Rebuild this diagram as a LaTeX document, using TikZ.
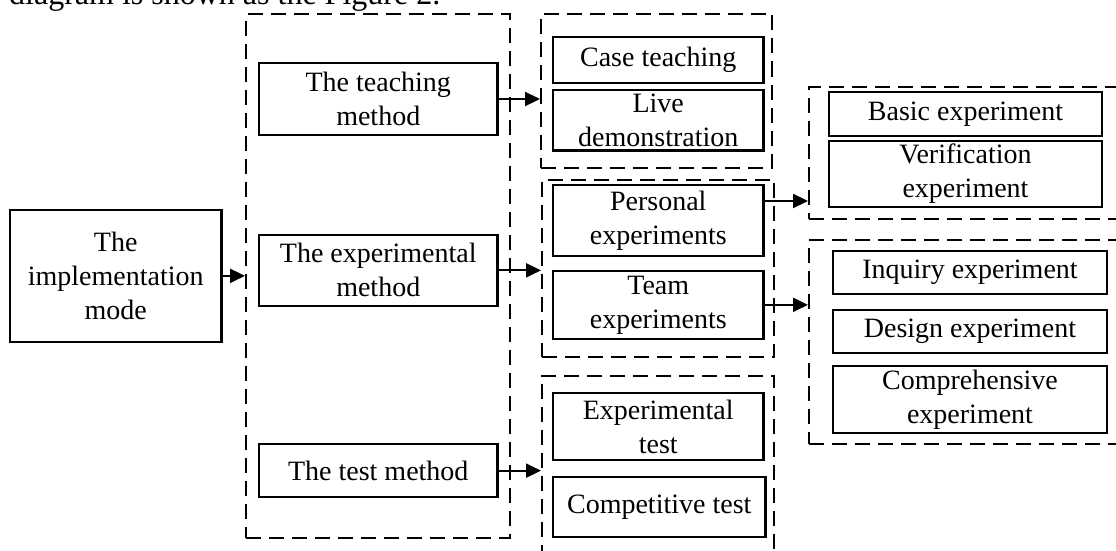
\documentclass[tikz,border=0pt]{standalone}
\usepackage{fontspec}
\setmainfont{Liberation Serif}
\usetikzlibrary{arrows.meta}
\begin{document}
\begin{tikzpicture}[x=1pt,y=-1pt,
  every node/.style={font=\fontsize{28}{34}\selectfont, inner sep=0pt},
  box/.style={draw, line width=2.2pt, rectangle, align=center},
  grp/.style={draw, line width=2pt, dash pattern=on 15pt off 8pt, rectangle},
  arr/.style={line width=2.2pt, -{Triangle[length=15pt,width=14pt]}}]
\useasboundingbox (0,0) rectangle (1116,551);
\clip (0,0) rectangle (1116,551);
% caption fragment
\node[anchor=base west, font=\fontsize{32}{38}\selectfont] (cap) at (9,5) {diagram is shown as the Figure 2.};
% groups
\node[grp, minimum width=264pt, minimum height=523.5pt] (col2) at (378,276.25) {};
\node[grp, minimum width=231pt, minimum height=153.5pt] (g3a) at (656.5,90.75) {};
\node[grp, minimum width=232pt, minimum height=177.5pt] (g3b) at (658,268.25) {};
\node[grp, minimum width=232pt, minimum height=194.3pt] (g3c) at (658,472.85) {};
\node[grp, minimum width=331pt, minimum height=132pt] (g4a) at (974.5,153) {};
\node[grp, minimum width=331pt, minimum height=204.3pt] (g4b) at (974.5,342.15) {};
% boxes
\node[box, minimum width=211.5pt, minimum height=131.7pt] (impl) at (115.75,275.85) {The\\implementation\\mode};
\node[box, minimum width=238.5pt, minimum height=71.4pt] (teach) at (378.25,99) {The teaching\\method};
\node[box, minimum width=238.5pt, minimum height=70.7pt] (exp) at (378.25,270.35) {The experimental\\method};
\node[box, minimum width=238.5pt, minimum height=53.3pt] (test) at (378.25,470.65) {The test method};
\node[box, minimum width=210.5pt, minimum height=46.6pt] (case) at (658.25,60) {Case teaching};
\node[box, minimum width=210.5pt, minimum height=60.5pt] (live) at (658.25,120.25) {Live\\demonstration};
\node[box, minimum width=210.5pt, minimum height=70.7pt] (personal) at (658.25,220.35) {Personal\\experiments};
\node[box, minimum width=210.5pt, minimum height=68.3pt] (team) at (658.25,304.85) {Team\\experiments};
\node[box, minimum width=210.5pt, minimum height=66.7pt] (exptest) at (658.25,426.65) {Experimental\\test};
\node[box, minimum width=212.5pt, minimum height=59.4pt] (compet) at (659.25,507) {Competitive test};
\node[box, minimum width=273pt, minimum height=43.4pt] (basic) at (965.5,114) {Basic experiment};
\node[box, minimum width=273pt, minimum height=66.6pt] (verif) at (965.5,174) {Verification\\experiment};
\node[box, minimum width=274pt, minimum height=43.3pt] (inquiry) at (970,272.65) {Inquiry experiment};
\node[box, minimum width=274pt, minimum height=43.3pt] (design) at (970,331.65) {Design experiment};
\node[box, minimum width=274pt, minimum height=66.7pt] (compre) at (970,399.35) {Comprehensive\\experiment};
% connectors
\draw[arr] (impl.east) -- (impl.east -| col2.west);
\draw[arr] (teach.east) -- (teach.east -| g3a.west);
\draw[arr] (exp.east) -- (exp.east -| g3b.west);
\draw[arr] (test.east) -- (test.east -| g3c.west);
\coordinate (pstart) at ([yshift=19.35pt]personal.east);
\draw[arr] (pstart) -- (pstart -| g4a.west);
\draw[arr] (team.east) -- (team.east -| g4b.west);
\end{tikzpicture}
\end{document}
